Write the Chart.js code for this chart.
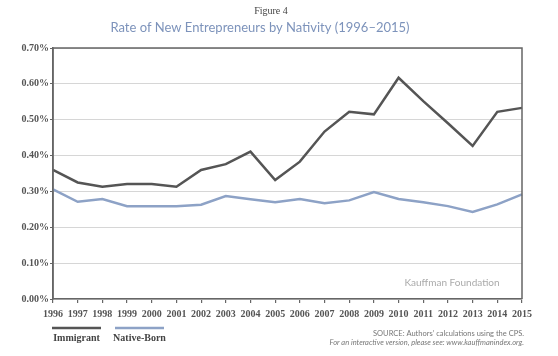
<!DOCTYPE html>
<html><head><meta charset="utf-8">
<script src="https://cdn.jsdelivr.net/npm/chart.js@4/dist/chart.umd.min.js"></script>
<style>html,body{margin:0;padding:0;background:#fff;}#wrap{width:558px;height:356px;}</style>
</head><body><div id="wrap"><canvas id="c" width="558" height="356"></canvas></div>
<script>
const years = ['1996','1997','1998','1999','2000','2001','2002','2003','2004','2005','2006','2007','2008','2009','2010','2011','2012','2013','2014','2015'];
const immigrant = [0.360,0.325,0.313,0.321,0.321,0.313,0.360,0.376,0.411,0.332,0.383,0.467,0.522,0.515,0.617,0.552,0.490,0.427,0.522,0.533];
const nativeBorn = [0.306,0.271,0.279,0.259,0.259,0.259,0.263,0.287,0.278,0.270,0.279,0.267,0.275,0.298,0.279,0.270,0.259,0.243,0.264,0.292];
const seriesNames = ['Immigrant','Native-Born'];
const figureLabel = 'Figure 4';
const titleText = 'Rate of New Entrepreneurs by Nativity (1996–2015)';
const watermark = 'Kauffman Foundation';
const sourceLines = ['SOURCE: Authors\u2019 calculations using the CPS.', 'For an interactive version, please see: www.kauffmanindex.org.'];

const colors = ['#555555', '#8da2c6'];

const decor = {
  id: 'decor',
  afterDraw(chart) {
    const ctx = chart.ctx, a = chart.chartArea;
    ctx.save();
    // frame
    ctx.strokeStyle = '#666';
    ctx.lineWidth = 1.5;
    ctx.beginPath();
    ctx.moveTo(a.left, a.bottom); ctx.lineTo(a.left, a.top); ctx.lineTo(a.right, a.top); ctx.lineTo(a.right, a.bottom);
    ctx.stroke();
    // titles
    ctx.textAlign = 'center'; ctx.textBaseline = 'middle';
    ctx.fillStyle = '#444';
    ctx.font = '10px "Liberation Serif"';
    ctx.fillText(figureLabel, 271, 11);
    ctx.fillStyle = '#7d93bb';
    ctx.font = '13px Lato';
    ctx.fillText(titleText, 260, 28);
    // watermark
    ctx.fillStyle = '#aaa';
    ctx.font = '10px Lato';
    ctx.fillText(watermark, 452, 283);
    // legend
    const legX = [[52,101],[115,164]];
    chart.data.datasets.forEach((ds, i) => {
      ctx.strokeStyle = ds.borderColor; ctx.lineWidth = 2.5;
      ctx.beginPath(); ctx.moveTo(legX[i][0], 328); ctx.lineTo(legX[i][1], 328); ctx.stroke();
      ctx.fillStyle = '#444';
      ctx.font = 'bold 10px "Liberation Serif"';
      ctx.fillText(ds.label, (legX[i][0]+legX[i][1])/2, 338);
    });
    // source
    ctx.textAlign = 'right';
    ctx.fillStyle = '#777';
    ctx.font = '7.5px Lato';
    ctx.fillText(sourceLines[0], 524, 334);
    ctx.font = 'italic 7.5px Lato';
    ctx.fillText(sourceLines[1], 524, 343);
    ctx.restore();
  }
};

new Chart(document.getElementById('c'), {
  type: 'line',
  data: {
    labels: years,
    datasets: [
      { label: seriesNames[0], data: immigrant, borderColor: colors[0], borderWidth: 2.5, pointRadius: 0, tension: 0, fill: false },
      { label: seriesNames[1], data: nativeBorn, borderColor: colors[1], borderWidth: 2.5, pointRadius: 0, tension: 0, fill: false }
    ]
  },
  options: {
    responsive: false, animation: false,
    layout: { padding: { top: 48, right: 36, left: 0, bottom: 0 } },
    plugins: { legend: { display: false }, tooltip: { enabled: false }, title: { display: false } },
    scales: {
      x: {
        offset: false,
        grid: { drawOnChartArea: false, drawTicks: true, tickLength: 4, color: '#666', lineWidth: 1.2 },
        border: { color: '#666', width: 1.5 },
        ticks: { color: '#555', font: { family: 'Liberation Serif', size: 10, weight: 'bold' }, padding: 5, maxRotation: 0, autoSkip: false },
        afterFit(s) { s.height = 57; }
      },
      y: {
        min: 0, max: 0.7,
        grid: { color: '#d6d6d6', lineWidth: 1, tickLength: 3, drawTicks: true, tickColor: '#666' },
        border: { color: '#666', width: 1.5 },
        ticks: { stepSize: 0.1, color: '#555', font: { family: 'Liberation Serif', size: 10, weight: 'bold' }, padding: 1,
          callback: v => v.toFixed(2) + '%' },
        afterFit(s) { s.width = 53; }
      }
    }
  },
  plugins: [decor]
});
</script></body></html>
